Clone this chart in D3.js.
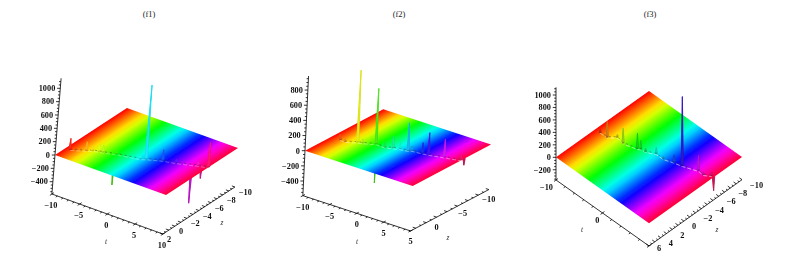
<!DOCTYPE html>
<html><head><meta charset="utf-8">
<script src="https://cdn.jsdelivr.net/npm/d3@7"></script>
<style>html,body{margin:0;padding:0;background:#fff}svg{display:block}</style>
</head><body><svg id="c" width="800" height="254"></svg>
<script>
const titles = ["(f1)", "(f2)", "(f3)"];
// spikes: t, z, value
const f1T = [-9.3,-7.2,-6.5,-5.6,-5,-3.1,0.5,1.2,3.4,5.4,8.4,9.9];
const f1Z = [0.12,-0.7,-1.06,-1.3,-1.4,-1.9,-2.5,-2.85,-3.6,-4,-4.85,-5.2];
const f1W = [160,125,60,105,100,40,50,1100,150,45,50,360];
const f1NegT = [-3.4,7.5,8.9];
const f1NegZ = [-1.8,-4.6,-4.9];
const f1NegW = [-475,-585,-190];
const f2T = [-8.5,-7.5,-5.9,-5.2,-3.4,-1.7,-0.6,0.4,1.7,2.1,3.9,4.9,7.3,9.8];
const f2Z = [-0.18,-0.1,-0.88,-1.09,-1.84,-1.76,-2.2,-2.5,-2.7,-3,-3.2,-3.35,-3.9,-4.5];
const f2W = [66,35,945,45,725,55,150,65,360,50,130,280,230,55];
const f2NegT = [-3.4,9.9];
const f2NegZ = [-1.84,-4.96];
const f2NegW = [-520,-90];
const f3T = [-9.1,-7.6,-6.5,-5,-2.6,-2.2,-1.3,0.2,1.7,3.4,4.8,7.3,8.4,9.5];
const f3Z = [-0.88,-0.9,-1.76,-1.55,-2.1,-2.36,-2.46,-3.1,-3.1,-3.6,-3.9,-4.7,-4.6,-5.2];
const f3W = [40,240,40,230,240,130,45,95,30,110,1100,240,35,50];
const f3NegT = [9.9];
const f3NegZ = [-5.2];
const f3NegW = [-225];
// ticks
const f1WTicks = [-400,-200,0,200,400,600,800,1000];
const f1TTicks = [-10,-5,0,5,10];
const f1ZTicks = [2,0,-2,-4,-6,-8,-10];
const f2WTicks = [-400,-200,0,200,400,600,800];
const f2TTicks = [-10,-5,0,5];
const f2ZTicks = [5,0,-5,-10];
const f3WTicks = [-200,0,200,400,600,800,1000];
const f3TTicks = [-10,0];
const f3ZTicks = [6,4,2,0,-2,-4,-6,-8,-10];

const panels = [
 {id:"a",title:titles[0],tx:149,T:f1T,Z:f1Z,W:f1W,nT:f1NegT,nZ:f1NegZ,nW:f1NegW,wT:f1WTicks,tT:f1TTicks,zT:f1ZTicks,
  L:[55,155],u:[111,40],v:[72,-47],wk:[5.3,-66.7],zr:[2,-10],wr:[-585,1150],wMinor:50,tMinor:1,zMinor:0.5,
  tOff:[-1,11.5],tA:"middle",zOff:[4,5.5],zA:"start",tLab:[106,242],zLab:[222,223],shade:0},
 {id:"b",title:titles[1],tx:399,T:f2T,Z:f2Z,W:f2W,nT:f2NegT,nZ:f2NegZ,nW:f2NegW,wT:f2WTicks,tT:f2TTicks,zT:f2ZTicks,
  L:[305,150.7],u:[107.7,35.3],v:[78.3,-41.4],wk:[3.6,-75.8],zr:[5,-10],wr:[-593,985],wMinor:50,tMinor:1,zMinor:1,
  tOff:[0,11.5],tA:"middle",zOff:[0,10],zA:"middle",tLab:[357,242],zLab:[448,238],shade:0.2},
 {id:"c3",title:titles[2],tx:650,T:f3T,Z:f3Z,W:f3W,nT:f3NegT,nZ:f3NegZ,nW:f3NegW,wT:f3WTicks,tT:f3TTicks,zT:f3ZTicks,
  L:[556,157.3],u:[93,66],v:[93,-66.3],wk:[0,-62.3],zr:[6,-10],wr:[-364,1123],wMinor:50,tMinor:2,zMinor:0.5,
  tOff:[-3,7],tA:"end",zOff:[8,5.5],zA:"start",tLab:[582,230],zLab:[717,230],shade:0.6}
];
const svg = d3.select("#c");
const defs = svg.append("defs");
defs.append("filter").attr("id","soft").append("feGaussianBlur").attr("stdDeviation",0.35);
svg.append("g").selectAll("text").data(panels).join("text")
  .attr("x",d=>d.tx).attr("y",17).attr("text-anchor","middle")
  .style("font","8.5px 'Liberation Serif'").attr("fill","#222").text(d=>d.title);

const hue = t => d3.hsl(348*(t+10)/20,1,0.5);
const spikeHue = t => d3.hsl(348*(t+9.5)/20,1,0.55);
panels.forEach(p=>{
  const g = svg.append("g").attr("filter","url(#soft)");
  const ts = d3.scaleLinear().domain([-10,10]).range([0,1]);
  const zs = d3.scaleLinear().domain(p.zr).range([0,1]);
  const P = (t,z,w)=>[p.L[0]+ts(t)*p.u[0]+zs(z)*p.v[0]+w/1000*p.wk[0],
                      p.L[1]+ts(t)*p.u[1]+zs(z)*p.v[1]+w/1000*p.wk[1]];
  const poly = pts=>"M"+pts.map(q=>q.map(n=>n.toFixed(2)).join(",")).join("L")+"Z";
  const zn=p.zr[0], zf=p.zr[1], wb=p.wr[0], wt=p.wr[1];
  const hw=0.2, hz=0.2;
  const spikeFaces=(t,z,w,c)=>{
    const a=P(t,z,w), s=[P(t-hw,z,0),P(t,z+hz,0),P(t+hw,z,0),P(t,z-hz,0)];
    return [{d:poly([s[0],s[1],a]),f:d3.color(c).brighter(0.5)},
            {d:poly([s[1],s[2],a]),f:d3.color(c).darker(0.7)},
            {d:poly([s[0],s[3],a]),f:c}];
  };
  // negative spikes below the sheet
  const neg=[];
  p.nT.forEach((t,i)=>neg.push(...spikeFaces(t,p.nZ[i],p.nW[i],d3.color(spikeHue(t)).darker(0.7))));
  g.append("g").selectAll("path").data(neg).join("path").attr("d",d=>d.d).attr("fill",d=>d.f).attr("stroke",d=>d.f).attr("stroke-width",0.5);
  // sheet: rainbow along t, gradient axis normal to the constant-t direction
  const vl2=p.v[0]*p.v[0]+p.v[1]*p.v[1], dot=(p.u[0]*p.v[0]+p.u[1]*p.v[1])/vl2;
  const nv=[p.u[0]-dot*p.v[0],p.u[1]-dot*p.v[1]];
  const grad=defs.append("linearGradient").attr("id","sheet"+p.id).attr("gradientUnits","userSpaceOnUse")
    .attr("x1",p.L[0]).attr("y1",p.L[1]).attr("x2",p.L[0]+nv[0]).attr("y2",p.L[1]+nv[1]);
  grad.selectAll("stop").data(d3.range(-10,10.01,1)).join("stop")
    .attr("offset",t=>ts(t)).attr("stop-color",t=>hue(t));
  g.append("path").attr("d",poly([P(-10,zn,0),P(10,zn,0),P(10,zf,0),P(-10,zf,0)])).attr("fill",`url(#sheet${p.id})`);
  // ripple along the ridge
  const ridge=p.T.map((t,i)=>P(t,p.Z[i],0));
  const ln=d3.line();
  g.append("path").attr("d",ln(ridge.map(q=>[q[0],q[1]+1.4]))).attr("fill","none").attr("stroke","#fff").attr("stroke-opacity",0.4+p.shade*0.5).attr("stroke-width",0.8).attr("stroke-dasharray","4 2");
  g.append("path").attr("d",ln(ridge)).attr("fill","none").attr("stroke","#333").attr("stroke-opacity",0.55).attr("stroke-width",0.8).attr("stroke-dasharray","2 3");
  // positive spikes
  const pos=[];
  p.T.forEach((t,i)=>pos.push(...spikeFaces(t,p.Z[i],p.W[i],d3.color(spikeHue(t)).darker(p.shade))));
  g.append("g").selectAll("path").data(pos).join("path").attr("d",d=>d.d).attr("fill",d=>d.f).attr("stroke",d=>d.f).attr("stroke-width",0.4);
  // axes
  const ax=g.append("g").attr("stroke","#000").attr("stroke-width",0.8).attr("fill","none");
  const seg=(a,b)=>ax.append("path").attr("d","M"+a+"L"+b);
  seg(P(-10,zn,wb),P(-10,zn,wt));
  seg(P(-10,zn,wb),P(10,zn,wb));
  seg(P(10,zn,wb),P(10,zf,wb));
  const vlen=Math.hypot(...p.v), ulen=Math.hypot(...p.u);
  d3.range(-10,10.01,p.tMinor).forEach(t=>{
    const a=P(t,zn,wb), major=(t%5===0);
    const k=major?2.4:2;
    const e=[a[0]-p.v[0]/vlen*k,a[1]-p.v[1]/vlen*k];
    seg(major?[a[0]+p.v[0]/vlen*k,a[1]+p.v[1]/vlen*k]:a,e);
  });
  d3.range(zn,zf-0.01,-p.zMinor).forEach(z=>{
    const a=P(10,z,wb), k=(Math.abs(z)%(p.zMinor*2)<1e-6)?3.2:1.8;
    seg(a,[a[0]-p.u[0]/ulen*k,a[1]-p.u[1]/ulen*k]);
  });
  d3.range(Math.ceil(wb/p.wMinor)*p.wMinor,wt,p.wMinor).forEach(w=>{
    const a=P(-10,zn,w), k=(w%200===0)?3.2:1.8;
    seg(a,[a[0]-k,a[1]]);
  });
  // labels
  const fmt=v=>(v<0?"\u2212":"")+Math.abs(v);
  const lab=g.append("g").attr("fill","#111").style("font","bold 8.3px 'Liberation Serif'");
  lab.selectAll(".w").data(p.wT).join("text").attr("class","w").attr("text-anchor","end")
    .attr("x",w=>P(-10,zn,w)[0]-5).attr("y",w=>P(-10,zn,w)[1]+2.8).text(fmt);
  lab.selectAll(".t").data(p.tT).join("text").attr("class","t").attr("text-anchor",p.tA)
    .attr("x",t=>P(t,zn,wb)[0]+p.tOff[0]).attr("y",t=>P(t,zn,wb)[1]+p.tOff[1]+2.6).text(fmt);
  lab.selectAll(".z").data(p.zT).join("text").attr("class","z").attr("text-anchor",p.zA)
    .attr("x",z=>P(10,z,wb)[0]+p.zOff[0]).attr("y",z=>Math.min(251,P(10,z,wb)[1]+p.zOff[1]+2.6)).text(fmt);
  const it=g.append("g").attr("fill","#333").style("font","italic 7.5px 'Liberation Serif'").attr("text-anchor","middle");
  it.append("text").attr("x",p.tLab[0]).attr("y",p.tLab[1]+2).text("t");
  it.append("text").attr("x",p.zLab[0]).attr("y",p.zLab[1]+2).text("z");
});
</script></body></html>
